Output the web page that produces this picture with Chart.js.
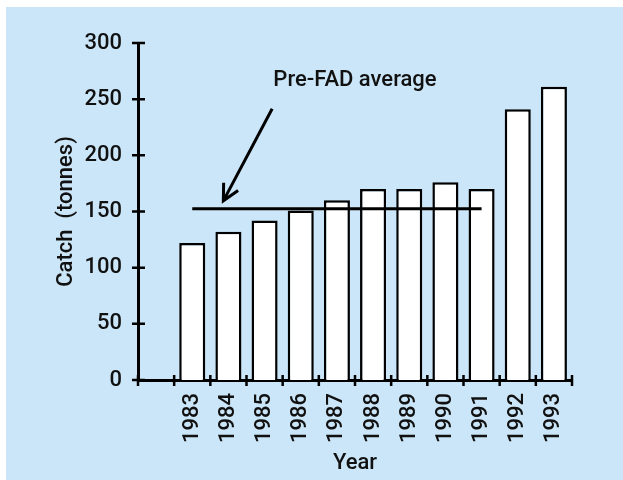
<!DOCTYPE html>
<html>
<head>
<meta charset="utf-8">
<title>Catch per year</title>
<script src="https://cdn.jsdelivr.net/npm/chart.js@4.4.1/dist/chart.umd.min.js"></script>
<style>
    body { margin: 0; background: #fff; }
    #bg { position: absolute; left: 6px; top: 7px; right: 0; bottom: 0; width: 617px; height: 473px; background: #cbe6f8; }
    #catchChart { position: absolute; left: 0; top: 0; }
</style>
</head>
<body>
<div id="bg"></div>
<canvas id="catchChart" width="623" height="480"></canvas>
<script>
// Data
const years = ["1983", "1984", "1985", "1986", "1987", "1988", "1989", "1990", "1991", "1992", "1993"];
const catchTonnes = [122, 132, 142, 151, 160, 170, 170, 176, 170, 241, 261];
const preFadYears = ["1983", "1984", "1985", "1986", "1987", "1988", "1989", "1990", "1991"];
const preFadAverage = 152.5;
const yTicks = [0, 50, 100, 150, 200, 250, 300];

// first slot on the x axis is empty in the original
const labels = [""].concat(years);

const fontFamily = "Roboto, 'Liberation Sans', Arial, sans-serif";
Chart.defaults.font.family = fontFamily;
Chart.defaults.font.weight = 500;
Chart.defaults.color = "#111";

// tick marks that cross the axis lines
const crossTicks = {
    id: "crossTicks",
    afterDraw(chart) {
        const { ctx, scales: { x, y } } = chart;
        ctx.save();
        ctx.strokeStyle = "#000";
        ctx.lineWidth = 2.5;
        ctx.beginPath();
        y.ticks.forEach(t => {
            const py = y.getPixelForValue(t.value);
            ctx.moveTo(x.left - 6, py);
            ctx.lineTo(x.left + 7, py);
        });
        for (let i = 0; i <= labels.length; i++) {
            const px = x.getPixelForValue(i - 0.5);
            ctx.moveTo(px, y.bottom - 5);
            ctx.lineTo(px, y.bottom + 6);
        }
        ctx.stroke();
        ctx.restore();
    }
};

// "Pre-FAD average" note with its arrow, placed in data units
const avgNote = {
    id: "avgNote",
    afterDraw(chart) {
        const { ctx, scales: { x, y } } = chart;
        const tipX = x.getPixelForValue(1.86), tipY = y.getPixelForValue(159.5);
        const tailX = x.getPixelForValue(3.21), tailY = y.getPixelForValue(241.5);
        ctx.save();
        ctx.strokeStyle = "#000";
        ctx.lineWidth = 3;
        ctx.beginPath();
        ctx.moveTo(tailX, tailY);
        ctx.lineTo(tipX, tipY);
        const ang = Math.atan2(tailY - tipY, tailX - tipX);
        const len = 18, spread = 27 * Math.PI / 180;
        ctx.moveTo(tipX + len * Math.cos(ang - spread), tipY + len * Math.sin(ang - spread));
        ctx.lineTo(tipX, tipY);
        ctx.lineTo(tipX + len * Math.cos(ang + spread), tipY + len * Math.sin(ang + spread));
        ctx.stroke();

        ctx.fillStyle = "#111";
        ctx.font = "500 22px " + fontFamily;
        ctx.textAlign = "center";
        ctx.textBaseline = "alphabetic";
        ctx.fillText("Pre-FAD average", x.getPixelForValue(5.5), y.getPixelForValue(261.5));
        ctx.restore();
    }
};

new Chart(document.getElementById("catchChart"), {
    type: "bar",
    data: {
        labels: labels,
        datasets: [
            {
                type: "line",
                label: "Pre-FAD average",
                data: labels.map(l => preFadYears.includes(l) ? preFadAverage : null),
                borderColor: "#000",
                borderWidth: 3,
                pointRadius: 0,
                fill: false,
                order: 0
            },
            {
                type: "bar",
                label: "Catch",
                data: [null].concat(catchTonnes),
                backgroundColor: "#fff",
                borderColor: "#000",
                borderWidth: 2.5,
                barPercentage: 0.72,
                categoryPercentage: 1,
                order: 1
            }
        ]
    },
    options: {
        responsive: false,
        animation: false,
        layout: { padding: { left: 40, top: 43, right: 51, bottom: 0 } },
        plugins: {
            legend: { display: false },
            tooltip: { enabled: false }
        },
        scales: {
            x: {
                offset: true,
                grid: { display: false, drawTicks: false },
                border: { display: true, color: "#000", width: 3 },
                ticks: { autoSkip: false, minRotation: 90, maxRotation: 90, padding: 13, font: { size: 22 } },
                title: { display: true, text: "Year", font: { size: 22 }, padding: { top: 0, bottom: 3 } },
                afterFit(scale) { scale.height = 100; }
            },
            y: {
                min: yTicks[0],
                max: yTicks[yTicks.length - 1],
                afterBuildTicks(scale) { scale.ticks = yTicks.map(v => ({ value: v })); },
                grid: { display: false, drawTicks: false },
                border: { display: true, color: "#000", width: 3 },
                ticks: { padding: 16, font: { size: 22 } },
                title: { display: true, text: "Catch  (tonnes)", font: { size: 22 }, padding: { top: 13, bottom: 0 } },
                afterFit(scale) { scale.width = 98; }
            }
        }
    },
    plugins: [crossTicks, avgNote]
});
</script>
</body>
</html>
